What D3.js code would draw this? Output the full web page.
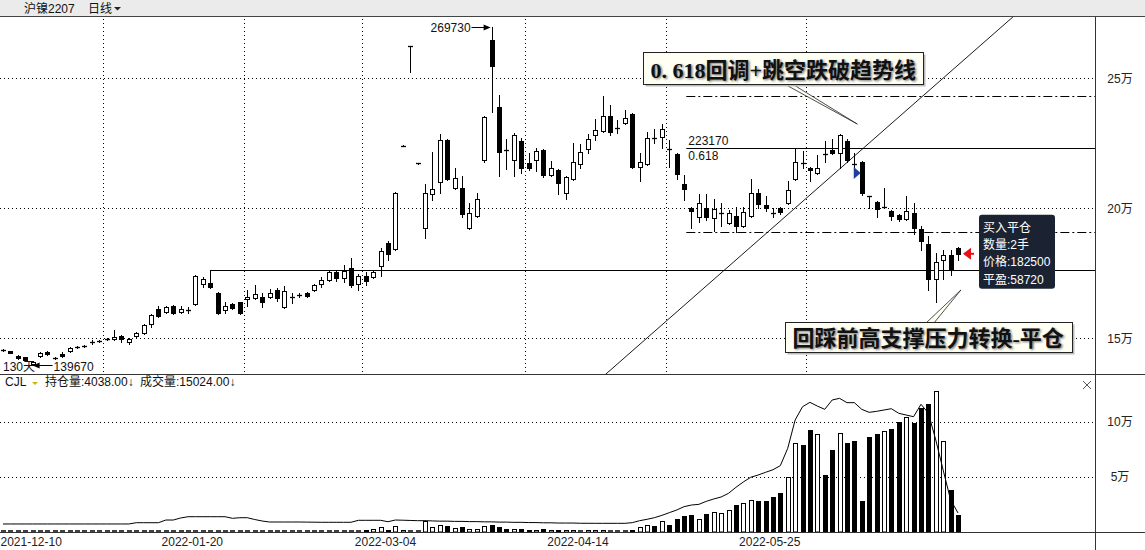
<!DOCTYPE html>
<html><head><meta charset="utf-8">
<script src="https://cdn.jsdelivr.net/npm/d3@7"></script>
<style>
html,body{margin:0;padding:0;background:#fff;}
svg{display:block;font-family:"Liberation Sans","Noto Sans CJK SC",sans-serif;}
</style></head><body>
<svg id="c" width="1145" height="550"></svg>
<script>
// ---------------- DATA ----------------
const opens = [145500,145100,143200,142800,140100,143200,144700,142500,144000,145100,
146600,147000,148600,148900,149700,149700,150900,148600,150900,152000,
155500,161300,160100,162400,160100,160900,163200,170900,171300,167400,
160900,163200,163900,165100,165500,165900,165900,168600,162000,165900,
166700,167400,168600,170900,172400,175500,173300,177100,170900,174000,
173600,177800,186700,184400,224000,262400,217400,192400,205500,210100,
226300,207700,207700,192400,197100,218600,264700,238900,222400,218600,
225900,217400,218600,222400,212800,214700,205900,211300,217000,222800,
228300,229700,235500,230900,232800,236300,215900,217000,227100,227400,
222800,220900,209300,200100,196700,200100,196300,198200,194400,197100,
193200,197100,205900,201300,198200,200100,202000,211300,217400,215500,
213600,220900,222400,221200,225900,217000,217800,204800,202400,200500,
198900,197500,195900,198200,192000,186200,172900,180100,182100,184800];
const highs = [145700,145300,143400,143000,141100,144700,145000,142700,144700,146700,
146900,147300,149300,149200,150000,153200,151100,150100,152400,155400,
159300,162400,162300,162700,162400,162000,174200,173700,176300,167700,
163900,163500,164100,168600,170500,167400,169000,169300,170100,167400,
167400,167700,170900,173700,175800,176300,178200,180900,174800,175500,
175900,184800,187400,206200,224200,262400,217600,209300,221600,228600,
226600,215500,212400,202000,205900,235400,269730,243600,226700,229000,
227100,221200,223200,222700,218200,215000,212300,225100,224700,228600,
234400,243100,239700,234000,237800,236600,221200,229300,230500,232400,
226300,221200,212800,200500,205500,205500,203600,202000,199400,200500,
200500,211300,207300,204800,200100,200400,210500,222800,222000,215800,
220500,225900,226700,228600,226700,221200,218100,204800,202700,207700,
199200,197800,204800,202000,193200,189400,182900,184000,184000,185000];
const lows = [145300,144200,142200,141300,139670,142900,143700,142200,142800,144700,
146400,146800,147800,148700,149500,149400,148600,147800,150600,151700,
154300,158300,159800,159400,159900,159700,162900,169700,169400,159400,
159700,161400,159500,162400,165200,162000,165600,164300,161700,163600,
165900,166000,168200,169700,172100,172000,171700,169700,168600,170500,
173300,174000,180100,184100,223800,252400,217200,188600,203200,205900,
210900,207400,196700,192100,196800,217800,237000,212400,215100,212400,
213600,214700,214300,212000,212500,205500,203600,211000,215500,221200,
226300,229400,228200,228900,232500,215600,210500,216700,225100,223200,
215900,211300,203200,192400,194700,195500,191300,193200,194100,190900,
192900,196800,200100,198900,196700,197800,201700,211000,215500,210500,
213300,217800,220900,215500,217800,215100,205100,200100,196700,200400,
195500,195100,195600,190200,184000,168600,163900,172900,174500,180100];
const closes = [145500,144400,142400,141600,140900,144400,144000,142400,143200,146300,
146700,147100,148200,149000,149800,150500,149700,149700,152000,155100,
159000,158600,162000,159700,161300,161000,174000,172900,169700,159700,
162400,161700,159700,165900,167000,163900,167400,165500,168200,165800,
166600,166300,170500,172400,175500,173300,175900,170500,174000,172000,
175500,183600,182400,205900,224000,262400,217400,205900,207300,226300,
211300,211700,197800,198200,203600,235100,254700,221600,222300,228300,
215500,215500,222000,212800,215500,209700,212000,217800,221600,226700,
230200,235500,229300,230800,234700,215900,217800,227100,227000,230500,
222700,213200,207300,198900,202000,196700,199700,198300,198200,193200,
198600,205900,201700,200100,198100,198600,207000,217800,217300,214700,
215500,220500,221200,228300,218600,216900,205900,204700,199700,200500,
197100,195900,198900,192400,187400,172900,179400,182100,176700,182500];
const volumes = [300,200,300,400,300,300,200,300,300,400,300,300,400,300,300,400,300,300,400,500,600,400,300,400,300,300,
900,600,500,700,400,400,500,500,500,400,400,400,600,300,300,300,500,500,600,500,600,900,700,
1800,2700,4500,1800,5700,
1500,800,1200,10000,4500,6000,5500,3500,4500,3000,3000,5500,6500,5000,2500,3000,2500,1500,1500,2500,1500,2000,1500,2000,1200,1500,1500,
1500,900,900,900,1800,4200,6100,5500,9700,6400,11800,14500,15500,11500,16400,17900,17000,19700,24500,26100,
28800,28200,28200,31800,35500,49700,80600,78800,92700,88800,51800,74500,89700,81200,82700,28200,86700,89100,91800,93600,
99700,104200,98800,112700,116400,128200,83000,38200,15024];
const openInterest = [1700,1700,1700,1700,1700,1700,1700,1700,1700,1700,1700,1700,1700,1700,1700,1700,1700,1700,
1970,1970,1970,1970,2540,2540,2970,3240,3240,3240,3240,3240,3240,
2900,3030,3030,2650,2330,2120,
2120,2120,2120,2120,2100,2080,2060,2060,2060,2060,
2060,2480,2480,2480,2480,2180,2540,
2500,2450,2400,2400,2350,2300,2300,2250,2250,2200,2200,2150,2150,2100,2100,2050,2050,2000,2000,1950,1950,1900,1900,1900,1850,1850,1840,
1840,1840,1840,1840,1980,2400,2690,3040,3530,4100,4660,5370,5720,5860,6500,7000,7420,8200,9470,10600,
11600,12080,12650,13200,14060,17740,23740,26560,27490,26700,26000,27980,28340,27420,27420,26000,25370,25580,25860,26140,
25160,24800,24440,27070,25200,19500,13100,6800,4038];

const priceTicks = [150000, 200000, 250000];
const priceTickLabels = ["15万", "20万", "25万"];
const volTicks = [50000, 100000];
const volTickLabels = ["5万", "10万"];
const dateLabels = ["2021-12-10", "2022-01-20", "2022-03-04", "2022-04-14", "2022-05-25"];
const dateLabelIdx = [-0.5, 25.5, 51.6, 77.6, 103.5];
const monthStartIdx = [14, 33, 49, 71, 90, 109];

const highIdx = 66, lowIdx = 4, lowDays = "130天";
const supportIdx = 28;             // prior high used as support line
const fibStartIdx = 92.3;
const fibLevels = [190900, 223170, 243117];
const fibLabel = ["", "0.618", ""];
const trendPts = [[81.6, 136650], [136.4, 273570]];
const sellIdx = 116, sellPrice = 213600;
const buyIdx = 129, buyPrice = 182500;
const tipLines = ["买入平仓", "数量:2手", "价格:182500", "平盈:58720"];
const note1 = {text: "0. 618回调+跳空跌破趋势线", idx: 86.45, price: 260100, tipIdx: 115.4, tipPrice: 232400};
const note2 = {text: "回踩前高支撑压力转换-平仓", idx: 105.6, price: 156300, tipIdx: 129.4, tipPrice: 168600};

// ---------------- LAYOUT ----------------
const W = 1145, H = 550;
const plotR = 1095, pTop = 17, pBot = 374, vBot = 532;
const n = closes.length;
const svg = d3.select("#c");
const x = d3.scaleLinear().domain([0, n - 1]).range([3, 958]);
const y = d3.scaleLinear().domain([150000, 250000]).range([338.3, 78.3]);
const yv = d3.scaleLinear().domain([0, 100000]).range([vBot, 422]);
const yoi = d3.scaleLinear().domain([0, 10000]).range([vBot, vBot - 10000 / 212]);
const step = x(1) - x(0);
const px = v => Math.round(v) + 0.5;

const defs = svg.append("defs");
defs.append("clipPath").attr("id", "pc").append("rect").attr("x", 0).attr("y", pTop).attr("width", plotR).attr("height", pBot - pTop);
defs.append("clipPath").attr("id", "vc").append("rect").attr("x", 0).attr("y", pBot).attr("width", plotR).attr("height", vBot - pBot);
const flt = defs.append("filter").attr("id", "blur").attr("x", "-10%").attr("y", "-10%").attr("width", "120%").attr("height", "130%");
flt.append("feGaussianBlur").attr("stdDeviation", 0.9);

svg.append("rect").attr("width", W).attr("height", H).attr("fill", "#fff");

// header
svg.append("rect").attr("x", 0).attr("y", 0).attr("width", W).attr("height", 16).attr("fill", "#ebebeb");
svg.append("line").attr("x1", 0).attr("x2", W).attr("y1", 16.5).attr("y2", 16.5).attr("stroke", "#444").attr("stroke-width", 1.2);
svg.append("text").attr("x", 24).attr("y", 12.5).attr("font-size", 12).attr("fill", "#111").text("沪镍2207");
svg.append("text").attr("x", 88).attr("y", 12.5).attr("font-size", 12).attr("fill", "#111").text("日线");
svg.append("path").attr("d", "M114,7 L121,7 L117.5,10.5 Z").attr("fill", "#222");

// grid
const grid = svg.append("g").attr("stroke", "#000").attr("stroke-dasharray", "1,3").attr("stroke-width", 1);
grid.selectAll("line.h").data(priceTicks).join("line")
  .attr("x1", 0).attr("x2", plotR).attr("y1", d => px(y(d))).attr("y2", d => px(y(d)));
grid.selectAll("line.v").data(monthStartIdx).join("line")
  .attr("x1", d => px(x(d) - step / 2)).attr("x2", d => px(x(d) - step / 2)).attr("y1", pTop + 2).attr("y2", pBot);
grid.selectAll("line.vv").data(volTicks).join("line")
  .attr("x1", 0).attr("x2", plotR).attr("y1", d => px(yv(d))).attr("y2", d => px(yv(d)));

// price panel drawings (behind candles)
const pg = svg.append("g").attr("clip-path", "url(#pc)");
pg.append("line").attr("x1", px(x(supportIdx))).attr("x2", plotR).attr("y1", px(y(highs[supportIdx]))).attr("y2", px(y(highs[supportIdx])))
  .attr("stroke", "#000").attr("stroke-width", 1);
pg.selectAll("line.fib").data(fibLevels).join("line")
  .attr("x1", x(fibStartIdx)).attr("x2", plotR).attr("y1", d => px(y(d))).attr("y2", d => px(y(d)))
  .attr("stroke", "#000").attr("stroke-width", 1)
  .attr("stroke-dasharray", (d, i) => fibLabel[i] ? null : "9,3,2,3");
pg.append("text").attr("x", x(fibStartIdx) + 2).attr("y", y(fibLevels[1]) - 3).attr("font-size", 12).attr("fill", "#111").text(fibLevels[1]);
pg.append("text").attr("x", x(fibStartIdx) + 2).attr("y", y(fibLevels[1]) + 12).attr("font-size", 12).attr("fill", "#111").text(fibLabel[1]);
{
  const [a, b] = trendPts;
  const s = (y(b[1]) - y(a[1])) / (x(b[0]) - x(a[0]));
  const x0 = x(a[0]), y0 = y(a[1]);
  pg.append("line").attr("x1", x0 - 200).attr("y1", y0 - 200 * s).attr("x2", x0 + 700).attr("y2", y0 + 700 * s)
    .attr("stroke", "#000").attr("stroke-width", 0.9);
}

// candles
const cg = pg.append("g");
const idx = d3.range(n);
cg.selectAll("line.wick").data(idx).join("line")
  .attr("x1", i => px(x(i))).attr("x2", i => px(x(i)))
  .attr("y1", i => Math.round(y(highs[i]))).attr("y2", i => Math.round(y(lows[i])) + 1)
  .attr("stroke", "#000").attr("stroke-width", 1);
idx.forEach(i => {
  const cx = Math.round(x(i));
  const yo = y(opens[i]), yc = y(closes[i]);
  const t = Math.round(Math.min(yo, yc)), b = Math.round(Math.max(yo, yc));
  const up = closes[i] >= opens[i];
  if (b - t < 1.5) {
    cg.append("line").attr("x1", cx - 2).attr("x2", cx + 3).attr("y1", t + 0.5).attr("y2", t + 0.5)
      .attr("stroke", "#000").attr("stroke-width", 1.3);
  } else {
    cg.append("rect").attr("x", cx - 1.5).attr("y", t + 0.5).attr("width", 4).attr("height", b - t)
      .attr("fill", up ? "#fff" : "#000").attr("stroke", "#000").attr("stroke-width", 1);
  }
});

// high label
{
  const hx = x(highIdx), hy = Math.round(y(highs[highIdx])) + 0.5;
  svg.append("text").attr("x", hx - 21).attr("y", hy + 4).attr("text-anchor", "end").attr("font-size", 12).attr("fill", "#111").text(highs[highIdx]);
  svg.append("line").attr("x1", hx - 20).attr("x2", hx - 6).attr("y1", hy).attr("y2", hy).attr("stroke", "#000");
  svg.append("path").attr("d", `M${hx - 1},${hy} L${hx - 8},${hy - 3} L${hx - 8},${hy + 3} Z`).attr("fill", "#000");
}
// low label
{
  const lx = x(lowIdx), ly = Math.round(y(lows[lowIdx])) + 0.5;
  svg.append("text").attr("x", 3).attr("y", ly + 5).attr("font-size", 12).attr("fill", "#111").text(lowDays);
  svg.append("line").attr("x1", lx + 2).attr("x2", lx + 20).attr("y1", ly).attr("y2", ly).attr("stroke", "#000");
  svg.append("path").attr("d", `M${lx},${ly} L${lx + 7},${ly - 3} L${lx + 7},${ly + 3} Z`).attr("fill", "#000");
  svg.append("text").attr("x", lx + 21).attr("y", ly + 5).attr("font-size", 12).attr("fill", "#111").text(lows[lowIdx]);
}

// signal triangles + tooltip
{
  const sx = x(sellIdx) - 1, sy = y(sellPrice);
  svg.append("path").attr("d", `M${sx},${sy} L${sx - 7},${sy - 6} L${sx - 7},${sy + 6} Z`).attr("fill", "#1f3fa0");
  const bx = x(buyIdx) + 5, by = y(buyPrice);
  svg.append("path").attr("d", `M${bx},${by} L${bx + 8},${by - 6} L${bx + 8},${by + 6} Z`).attr("fill", "#e8101a");
  svg.append("line").attr("x1", bx + 6).attr("x2", bx + 11).attr("y1", by).attr("y2", by).attr("stroke", "#e8101a").attr("stroke-width", 2);
  const tx = bx + 16, ty = by - 39;
  svg.append("rect").attr("x", tx).attr("y", ty).attr("width", 76).attr("height", 74).attr("rx", 3).attr("fill", "#1b2333");
  svg.selectAll("text.tip").data(tipLines).join("text").attr("class", "tip")
    .attr("x", tx + 4).attr("y", (d, i) => ty + 17 + i * 17.3).attr("font-size", 12).attr("fill", "#fff").text(d => d);
}

// annotation notes
function note(nt, w, h, baseOff) {
  const bx = Math.round(x(nt.idx)) + 0.5, by = Math.round(y(nt.price)) + 0.5;
  const tipX = x(nt.tipIdx), tipY = y(nt.tipPrice);
  const g = svg.append("g");
  const below = tipY > by;
  const baseY = below ? by + h - 1 : by + 1;
  const bcx = bx + baseOff;
  g.append("path").attr("d", `M${bcx},${baseY} L${tipX},${tipY} L${bcx + 8},${baseY} Z`)
    .attr("fill", "#fffff4").attr("stroke", "#222").attr("stroke-width", 0.8);
  g.append("rect").attr("x", bx + 2).attr("y", by + 2).attr("width", w).attr("height", h).attr("fill", "#bbb");
  g.append("rect").attr("x", bx).attr("y", by).attr("width", w).attr("height", h).attr("fill", "#fffff4").attr("stroke", "#222").attr("stroke-width", 1);
  const tf = '"Liberation Serif","Noto Sans CJK SC",serif';
  g.append("text").attr("x", bx + 7).attr("y", by + h - 7).attr("font-size", 22).attr("font-weight", 700)
    .attr("font-family", tf).attr("fill", "#777").attr("filter", "url(#blur)").attr("transform", "translate(1.5,1.5)").text(nt.text);
  g.append("text").attr("x", bx + 7).attr("y", by + h - 7).attr("font-size", 22).attr("font-weight", 700)
    .attr("font-family", tf).attr("fill", "#111").text(nt.text);
}
note(note1, 280, 32, 140);
note(note2, 287, 30, 140);

// volume panel
const vg = svg.append("g").attr("clip-path", "url(#vc)");
idx.forEach(i => {
  const cx = Math.round(x(i));
  const t = Math.round(yv(volumes[i]));
  const up = closes[i] >= opens[i];
  if (vBot - t < 2) {
    vg.append("line").attr("x1", cx - 2).attr("x2", cx + 3).attr("y1", vBot - 1).attr("y2", vBot - 1).attr("stroke", "#000").attr("stroke-width", 1.5);
  } else {
    vg.append("rect").attr("x", cx - 1.5).attr("y", t + 0.5).attr("width", 4).attr("height", vBot - t - 0.5)
      .attr("fill", up ? "#fff" : "#000").attr("stroke", "#000").attr("stroke-width", 1);
  }
});
vg.append("path").datum(idx).attr("fill", "none").attr("stroke", "#000").attr("stroke-width", 1)
  .attr("d", d3.line().x(i => x(i)).y(i => yoi(openInterest[i])));

// frame lines
svg.append("line").attr("x1", 0).attr("x2", W).attr("y1", pBot + 0.5).attr("y2", pBot + 0.5).attr("stroke", "#333");
svg.append("line").attr("x1", 0).attr("x2", W).attr("y1", vBot + 0.5).attr("y2", vBot + 0.5).attr("stroke", "#333");
svg.append("line").attr("x1", plotR + 0.5).attr("x2", plotR + 0.5).attr("y1", pTop).attr("y2", H).attr("stroke", "#333");

// volume header
svg.append("text").attr("x", 5).attr("y", 386).attr("font-size", 12).attr("fill", "#111").text("CJL");
svg.append("path").attr("d", "M32,382 L38,382 L35,385 Z").attr("fill", "#c9b800");
svg.append("text").attr("x", 45).attr("y", 386).attr("font-size", 12).attr("fill", "#111")
  .text(`持仓量:${openInterest[n - 1].toFixed(2)}↓`);
svg.append("text").attr("x", 140).attr("y", 386).attr("font-size", 12).attr("fill", "#111")
  .text(`成交量:${volumes[n - 1].toFixed(2)}↓`);
svg.append("path").attr("d", "M1083,381 L1091,389 M1091,381 L1083,389").attr("stroke", "#555").attr("stroke-width", 1);

// axes
const axP = svg.append("g").attr("transform", `translate(${plotR},0)`)
  .call(d3.axisRight(y).tickValues(priceTicks).tickFormat((d, i) => priceTickLabels[i]).tickSize(0).tickPadding(25));
const axV = svg.append("g").attr("transform", `translate(${plotR},0)`)
  .call(d3.axisRight(yv).tickValues(volTicks).tickFormat((d, i) => volTickLabels[i]).tickSize(0).tickPadding(25));
[axP, axV].forEach(a => {
  a.select(".domain").remove();
  a.selectAll("text").attr("text-anchor", "middle").attr("font-size", 12).attr("fill", "#222")
    .attr("font-family", '"Liberation Sans","Noto Sans CJK SC",sans-serif');
});
const axD = svg.append("g").attr("transform", `translate(0,${vBot})`)
  .call(d3.axisBottom(x).tickValues(dateLabelIdx).tickFormat((d, i) => dateLabels[i]).tickSize(0).tickPadding(5));
axD.select(".domain").remove();
axD.selectAll("text").attr("font-size", 12).attr("fill", "#222")
  .attr("font-family", '"Liberation Sans","Noto Sans CJK SC",sans-serif')
  .attr("text-anchor", (d, i) => i === 0 ? "start" : "middle")
  .attr("x", (d, i) => i === 0 ? -x(d) : 0);
</script>
</body></html>
